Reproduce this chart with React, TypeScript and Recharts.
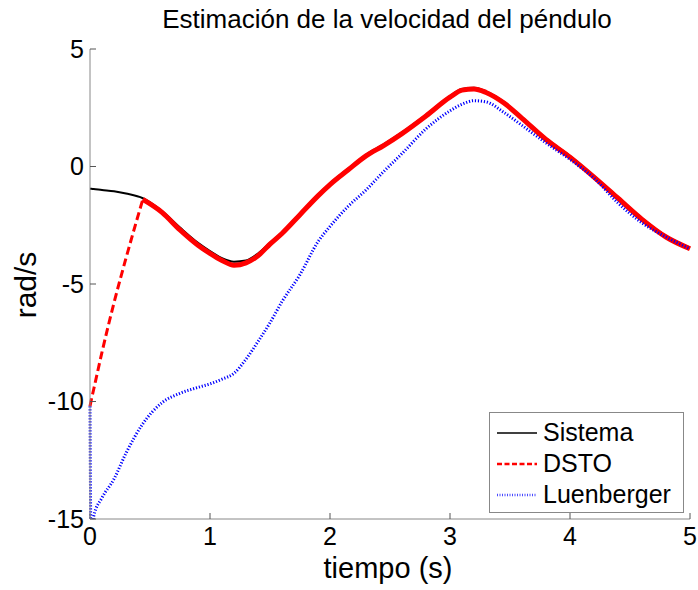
import React from "react";
import { LineChart, Line, XAxis, YAxis, Legend } from "recharts";

// tiempo (s)
const times = [
  0, 0.01, 0.03, 0.1, 0.2, 0.3, 0.44, 0.6, 0.75, 0.9, 1.0, 1.1, 1.2, 1.3, 1.4, 1.5, 1.6, 1.75, 1.9, 2.0,
  2.15, 2.3, 2.45, 2.6, 2.8, 3.0, 3.1, 3.2, 3.3, 3.45, 3.6, 3.8, 4.0, 4.2, 4.4, 4.6, 4.8, 5.0,
];

const sistema = [
  -0.95, -0.95, -0.96, -1.0, -1.05, -1.15, -1.35, -1.9, -2.6, -3.25, -3.6, -3.9, -4.05, -4.0, -3.7, -3.25,
  -2.8, -2.0, -1.2, -0.72, -0.1, 0.5, 0.95, 1.45, 2.2, 3.0, 3.3, 3.35, 3.2, 2.75, 2.1, 1.2, 0.45, -0.4,
  -1.3, -2.2, -2.95, -3.45,
];

// DSTO: initial transient (dashed) and tracking part
const dstoRamp = [
  -10.2, -9.95, -9.5, -7.9, -5.8, -3.9, -1.4, null, null, null, null, null, null, null, null, null, null,
  null, null, null, null, null, null, null, null, null, null, null, null, null, null, null, null, null,
  null, null, null, null,
];
const dsto = [
  null, null, null, null, null, null, -1.4, -1.95, -2.7, -3.35, -3.7, -4.0, -4.2, -4.1, -3.8, -3.3, -2.85,
  -2.05, -1.25, -0.77, -0.15, 0.45, 0.9, 1.4, 2.15, 2.95, 3.25, 3.3, 3.15, 2.7, 2.05, 1.15, 0.4, -0.45,
  -1.35, -2.25, -3.0, -3.5,
];

const luenberger = [
  -10.2, -16.5, -14.9, -14.1, -13.3, -12.2, -10.95, -10.05, -9.65, -9.4, -9.25, -9.05, -8.8, -8.2, -7.45,
  -6.65, -5.75, -4.6, -3.2, -2.55, -1.7, -1.0, -0.2, 0.55, 1.6, 2.37, 2.65, 2.8, 2.75, 2.3, 1.75, 1.0, 0.3,
  -0.5, -1.55, -2.4, -3.0, -3.5,
];

const xTicks = [0, 1, 2, 3, 4, 5];
const yTicks = [-15, -10, -5, 0, 5];

const data = times.map((t, i) => ({
  t,
  sistema: sistema[i],
  dstoRamp: dstoRamp[i],
  dsto: dsto[i],
  luenberger: luenberger[i],
}));

const FONT = "'Liberation Sans', Arial, Helvetica, sans-serif";

const legendItems = [
  { label: "Sistema", color: "#000000", dash: undefined, width: 1.5 },
  { label: "DSTO", color: "#ff0000", dash: "5 2.5", width: 2.5 },
  { label: "Luenberger", color: "#4a4aff", dash: "1 1.5", width: 2.5 },
];

function renderLegend() {
  return (
    <div
      style={{
        width: 195,
        height: 101,
        boxSizing: "border-box",
        border: "1px solid #888",
        background: "#fff",
        paddingTop: 4,
        fontFamily: FONT,
        fontSize: 25,
        color: "#000",
      }}
    >
      {legendItems.map((item) => (
        <div key={item.label} style={{ display: "flex", alignItems: "center", height: 31 }}>
          <svg width={40} height={10} style={{ marginLeft: 7, marginRight: 6 }}>
            <line
              x1={0}
              y1={5}
              x2={40}
              y2={5}
              stroke={item.color}
              strokeWidth={item.width}
              strokeDasharray={item.dash}
            />
          </svg>
          <span style={{ lineHeight: "31px" }}>{item.label}</span>
        </div>
      ))}
    </div>
  );
}

export default function App() {
  return (
    <div style={{ position: "absolute", left: 0, top: 0, width: 698, height: 590, background: "#fff" }}>
      <LineChart width={698} height={590} data={data} margin={{ top: 49, right: 8, bottom: 0, left: 0 }}>
        <XAxis
          dataKey="t"
          type="number"
          domain={[0, 5]}
          ticks={xTicks}
          height={71}
          stroke="#888"
          tickSize={-6}
          tickMargin={14}
          tick={{ fontSize: 25, fill: "#000", fontFamily: FONT }}
          tickLine={{ stroke: "#555" }}
        />
        <YAxis
          type="number"
          domain={[-15, 5]}
          ticks={yTicks}
          allowDataOverflow
          width={90}
          stroke="#888"
          tickSize={-6}
          tickMargin={12}
          tick={{ fontSize: 25, fill: "#000", fontFamily: FONT }}
          tickLine={{ stroke: "#555" }}
        />
        <Line
          type="monotone"
          dataKey="sistema"
          stroke="#000"
          strokeWidth={2}
          dot={false}
          isAnimationActive={false}
        />
        <Line
          type="monotone"
          dataKey="dstoRamp"
          stroke="#ff0000"
          strokeWidth={3}
          strokeDasharray="8 4"
          dot={false}
          isAnimationActive={false}
        />
        <Line
          type="monotone"
          dataKey="dsto"
          stroke="#ff0000"
          strokeWidth={5}
          dot={false}
          isAnimationActive={false}
        />
        <Line
          type="monotone"
          dataKey="luenberger"
          stroke="#0000ff"
          strokeWidth={3}
          strokeDasharray="1.2 1.8"
          dot={false}
          isAnimationActive={false}
        />
        <Legend
          layout="vertical"
          align="center"
          verticalAlign="middle"
          content={renderLegend}
          wrapperStyle={{ left: 489, top: 412, width: 195, height: 101 }}
        />
        <text x={387} y={28} textAnchor="middle" fontSize={26} fontFamily={FONT} fill="#000">
          Estimación de la velocidad del péndulo
        </text>
        <text x={388} y={578} textAnchor="middle" fontSize={29} fontFamily={FONT} fill="#000">
          tiempo (s)
        </text>
        <text
          x={36}
          y={285}
          textAnchor="middle"
          fontSize={30}
          fontFamily={FONT}
          fill="#000"
          transform="rotate(-90 36 285)"
        >
          rad/s
        </text>
      </LineChart>
    </div>
  );
}
